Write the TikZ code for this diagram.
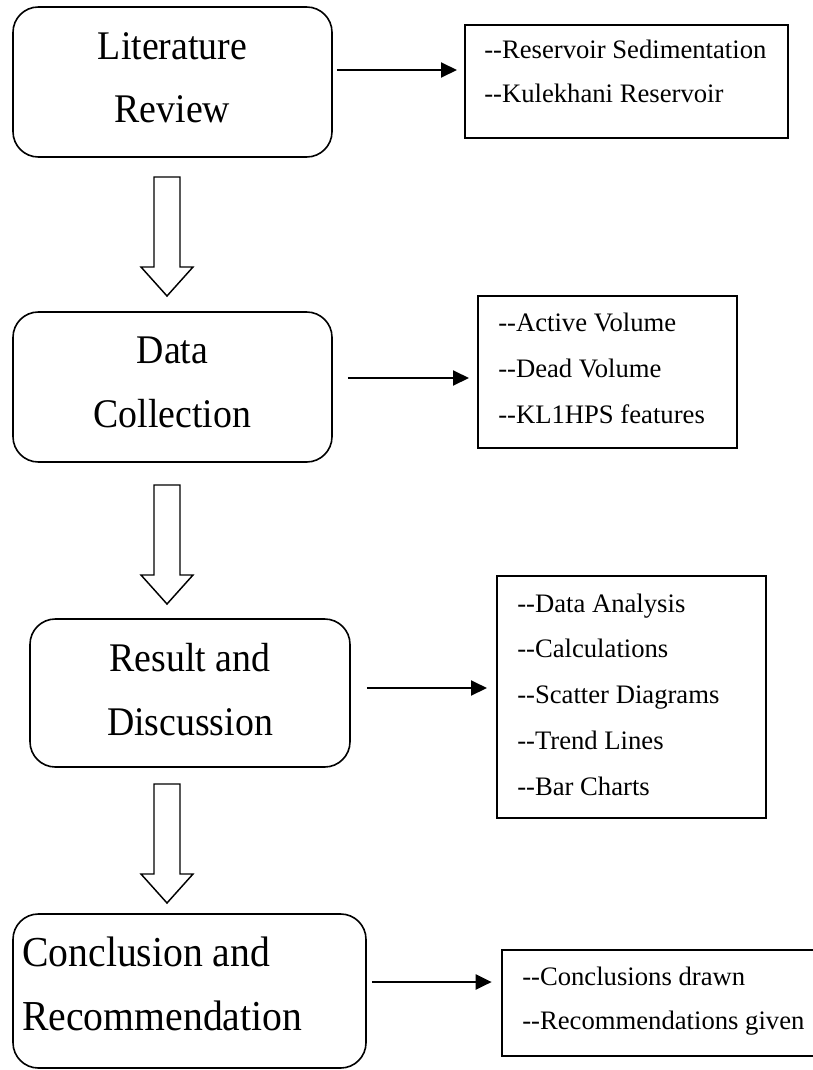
\documentclass[tikz,border=0pt]{standalone}
\usepackage{fontspec}
\setmainfont{Liberation Serif}
\newfontfamily\bigserif[FakeStretch=0.93]{Liberation Serif}
\usetikzlibrary{arrows.meta,fit}
\newcommand{\dd}{{-}{-}}
\begin{document}
\begin{tikzpicture}[x=0.75pt,y=-0.75pt,
  roundbox/.style={draw,line width=1.2pt,rounded corners=19pt,inner sep=0pt},
  listbox/.style={draw,line width=1.4pt,inner sep=0pt},
  bigtxt/.style={inner sep=0pt,anchor=base,font=\bigserif\fontsize{30.5}{36}\selectfont},
  smalltxt/.style={inner sep=0pt,anchor=base west,font=\fontsize{20}{24}\selectfont},
  conn/.style={line width=2.2pt,-{Triangle[length=12pt,width=11pt]}},
  hollowline/.style={draw,line width=1.1pt,fill=white,line join=miter},
  pics/hollowdown/.style={code={
    \draw[hollowline] (-13,0) -- (13,0) -- (13,90) -- (26,90) -- (0,119) -- (-26,90) -- (-13,90) -- cycle;
  }}]
\useasboundingbox (0,0) rectangle (813,1070);
\clip (0,0) rectangle (813,1070);
\fill[white] (0,0) rectangle (813,1070);

% main boxes
\node[roundbox,fit={(13,7)(332,157)}] (lit) {};
\node[bigtxt] (lit1) at (172.5,60) {Literature};
\node[bigtxt] (lit2) at (172.5,123) {Review};

\node[roundbox,fit={(13,312)(332,462)}] (dat) {};
\node[bigtxt] (dat1) at (172.5,363) {Data};
\node[bigtxt] (dat2) at (172.5,427) {Collection};

\node[roundbox,fit={(30,619)(350,767)}] (res) {};
\node[bigtxt] (res1) at (190,671) {Result and};
\node[bigtxt] (res2) at (190,735) {Discussion};

\node[roundbox,fit={(13,914)(366,1068)}] (con) {};
\node[bigtxt,anchor=base west,font=\bigserif\fontsize{32}{38}\selectfont] (con1) at (22,966) {Conclusion and};
\node[bigtxt,anchor=base west,font=\bigserif\fontsize{32}{38}\selectfont] (con2) at (22,1030) {Recommendation};

% list boxes
\node[listbox,fit={(465,25)(788,138)}] (rb1) {};
\node[smalltxt] (rb1a) at (484,59) {\dd Reservoir Sedimentation};
\node[smalltxt] (rb1b) at (484,103) {\dd Kulekhani Reservoir};

\node[listbox,fit={(478,296)(737,448)}] (rb2) {};
\node[smalltxt] (rb2a) at (498,331) {\dd Active Volume};
\node[smalltxt] (rb2b) at (498,377) {\dd Dead Volume};
\node[smalltxt] (rb2c) at (498,423) {\dd KL1HPS features};

\node[listbox,fit={(497,576)(766,818)}] (rb3) {};
\node[smalltxt] (rb3a) at (517,612) {\dd Data Analysis};
\node[smalltxt] (rb3b) at (517,657) {\dd Calculations};
\node[smalltxt] (rb3c) at (517,703) {\dd Scatter Diagrams};
\node[smalltxt] (rb3d) at (517,749) {\dd Trend Lines};
\node[smalltxt] (rb3e) at (517,795) {\dd Bar Charts};

\node[listbox,fit={(502,950)(830,1056)}] (rb4) {};
\node[smalltxt] (rb4a) at (522,985) {\dd Conclusions drawn};
\node[smalltxt] (rb4b) at (522,1029) {\dd Recommendations given};

% horizontal connectors
\coordinate (y1) at (0,70);
\coordinate (y2) at (0,378);
\coordinate (y3) at (0,688);
\coordinate (y4) at (0,982);
\draw[conn,shorten <=3pt,shorten >=5.25pt] (lit.east |- y1) -- (rb1.west |- y1);
\draw[conn,shorten <=11.25pt,shorten >=6pt] (dat.east |- y2) -- (rb2.west |- y2);
\draw[conn,shorten <=12pt,shorten >=6.75pt] (res.east |- y3) -- (rb3.west |- y3);
\draw[conn,shorten <=3.75pt,shorten >=7pt] (con.east |- y4) -- (rb4.west |- y4);

% hollow down arrows
\coordinate (h1) at (167,177);
\coordinate (h2) at (167,485);
\coordinate (h3) at (167,784);
\pic at (h1) {hollowdown};
\pic at (h2) {hollowdown};
\pic at (h3) {hollowdown};
\end{tikzpicture}
\end{document}
